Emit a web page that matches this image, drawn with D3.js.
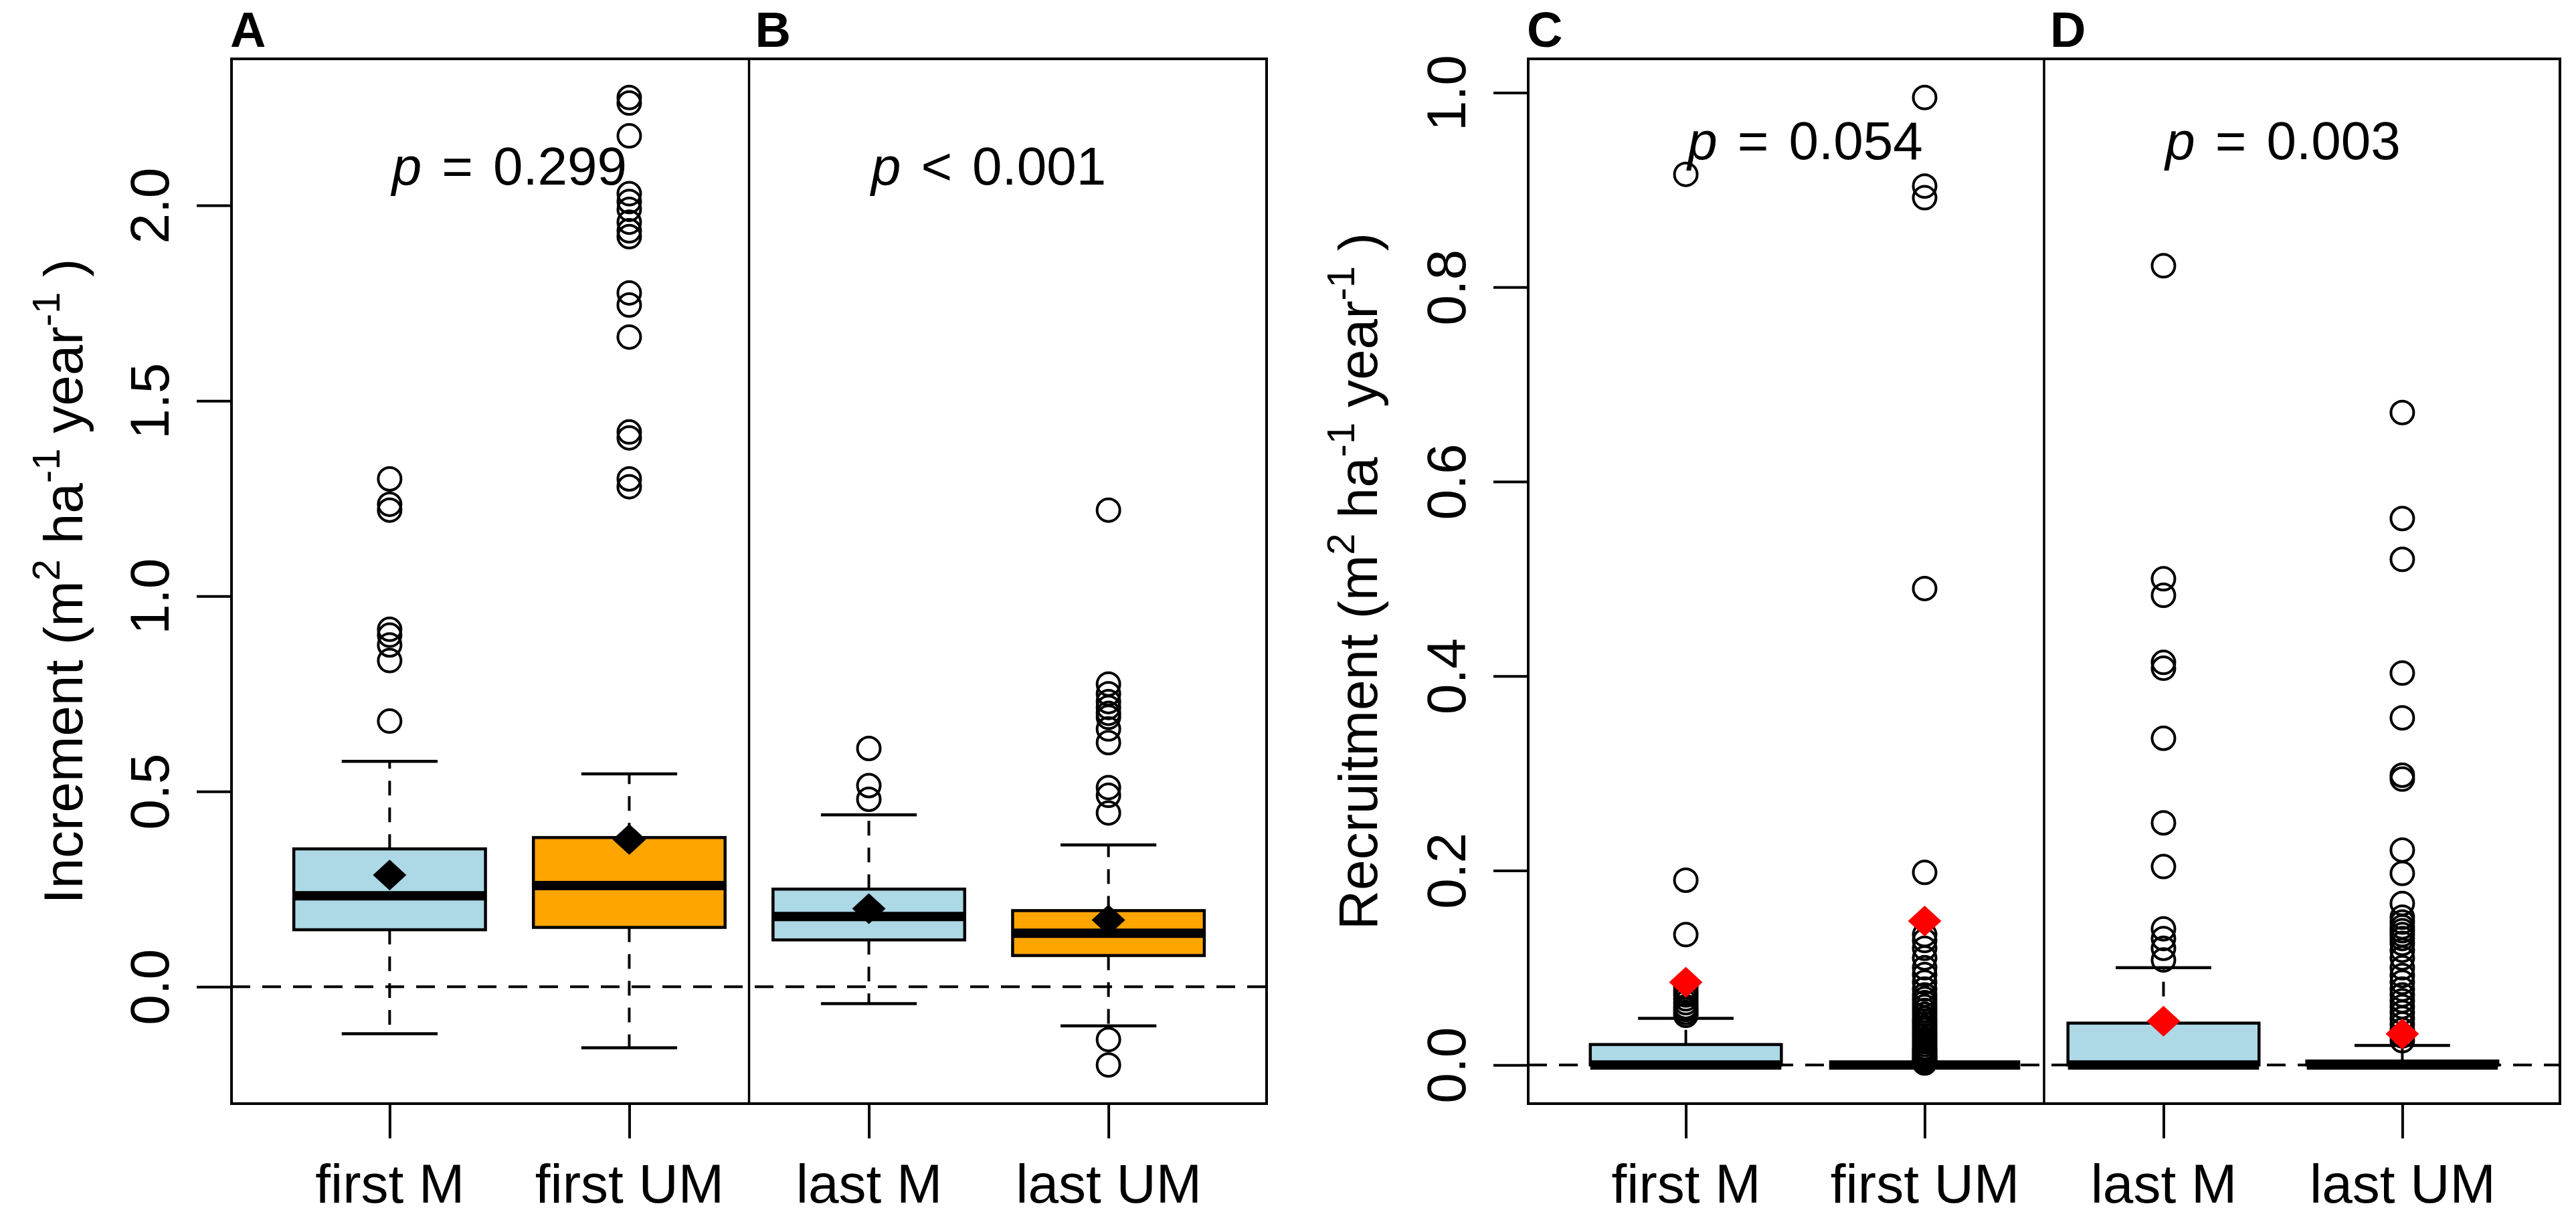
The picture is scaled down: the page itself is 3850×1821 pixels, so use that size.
<!DOCTYPE html>
<html>
<head>
<meta charset="utf-8">
<script src="https://cdn.jsdelivr.net/npm/d3@7"></script>
<style>
  body { margin: 0; background: #fff; }
  text { font-family: "Liberation Sans", Arial, Helvetica, sans-serif; }
</style>
</head>
<body>
<div id="chart"></div>
<script>
  "use strict";

  // groups on the x axis (same for both plots)
  var groups = ["first M", "first UM", "last M", "last UM"];

  // increment (panels A, B)
  var incLowerWhisker = [-0.12, -0.156, -0.043, -0.10];
  var incQ1 = [0.146, 0.152, 0.12, 0.08];
  var incMedian = [0.233, 0.259, 0.18, 0.137];
  var incQ3 = [0.353, 0.382, 0.25, 0.195];
  var incUpperWhisker = [0.577, 0.545, 0.44, 0.363];
  var incMean = [0.286, 0.377, 0.20, 0.171];
  var incOutliers = [
    [1.30, 1.235, 1.22, 0.915, 0.90, 0.875, 0.835, 0.68],
    [2.276, 2.262, 2.178, 2.03, 2.01, 1.99, 1.957, 1.935, 1.92, 1.776, 1.745, 1.663, 1.42, 1.405, 1.30, 1.28],
    [0.61, 0.515, 0.48],
    [1.22, 0.775, 0.75, 0.73, 0.715, 0.70, 0.69, 0.66, 0.625, 0.51, 0.49, 0.445, -0.135, -0.20]
  ];
  var incTicks = [0, 0.5, 1, 1.5, 2];
  var incPText = ["= 0.299", "< 0.001"];

  // recruitment (panels C, D)
  var recLowerWhisker = [0, 0, 0, 0];
  var recQ1 = [0, 0, 0, 0];
  var recMedian = [0, 0, 0, 0];
  var recQ3 = [0.021, 0, 0.043, 0.004];
  var recUpperWhisker = [0.048, 0, 0.10, 0.02];
  var recMean = [0.085, 0.148, 0.045, 0.032];
  var recOutliers = [
    [0.916, 0.19, 0.134, 0.08, 0.076, 0.072, 0.068, 0.064, 0.06, 0.057, 0.054, 0.051],
    [0.995, 0.904, 0.892, 0.49, 0.198, 0.134, 0.128, 0.12, 0.11, 0.10, 0.093, 0.085, 0.078, 0.072,
     0.068, 0.064, 0.06, 0.056, 0.052, 0.048, 0.045, 0.042, 0.039, 0.036, 0.033, 0.03, 0.027, 0.024,
     0.021, 0.018, 0.016, 0.014, 0.012, 0.01, 0.008, 0.006, 0.004, 0.003, 0.002],
    [0.822, 0.50, 0.483, 0.414, 0.408, 0.336, 0.249, 0.204, 0.14, 0.13, 0.12, 0.108],
    [0.671, 0.562, 0.52, 0.403, 0.357, 0.298, 0.294, 0.221, 0.197, 0.166, 0.152, 0.147, 0.142,
     0.138, 0.134, 0.13, 0.125, 0.118, 0.11, 0.10, 0.092, 0.085, 0.078, 0.072, 0.066, 0.06,
     0.054, 0.048, 0.042, 0.036, 0.03, 0.025]
  ];
  var recTicks = [0, 0.2, 0.4, 0.6, 0.8, 1.0];
  var recPText = ["= 0.054", "= 0.003"];

  var boxFill = ["#add8e6", "#ffa500", "#add8e6", "#ffa500"];

  var W = 3850, H = 1821, FONT = 82;

  var svg = d3.select("#chart").append("svg")
    .attr("width", W)
    .attr("height", H)
    .style("background", "#fff");

  drawPanel({
    left: 346, right: 1893, top: 88, bottom: 1650,
    lower: incLowerWhisker, q1: incQ1, median: incMedian, q3: incQ3,
    upper: incUpperWhisker, mean: incMean, outliers: incOutliers,
    meanColor: "#000", ticks: incTicks, pText: incPText, pY: 2.1,
    letters: ["A", "B"], title: "Increment", titleX: 123
  });

  drawPanel({
    left: 2284, right: 3826, top: 88, bottom: 1650,
    lower: recLowerWhisker, q1: recQ1, median: recMedian, q3: recQ3,
    upper: recUpperWhisker, mean: recMean, outliers: recOutliers,
    meanColor: "#ff0000", ticks: recTicks, pText: recPText, pY: 0.95,
    letters: ["C", "D"], title: "Recruitment", titleX: 2058
  });

  function drawPanel(cfg) {
    // R boxplot style limits: 0.5..4.5 plus 4% each side
    var x = d3.scaleLinear().domain([0.34, 4.66]).range([cfg.left, cfg.right]);
    var all = [].concat(cfg.lower, cfg.upper, d3.merge(cfg.outliers));
    var ext = d3.extent(all), pad = (ext[1] - ext[0]) * 0.04;
    var y = d3.scaleLinear().domain([ext[0] - pad, ext[1] + pad]).range([cfg.bottom, cfg.top]);

    var unit = x(1) - x(0),
        boxW = 0.8 * unit,
        capW = boxW / 2;

    var g = svg.append("g");

    var idx = d3.range(groups.length);

    // whiskers (dashed)
    g.selectAll("line.whisker-hi")
      .data(idx).enter().append("line")
      .attr("x1", function (i) { return x(i + 1); })
      .attr("x2", function (i) { return x(i + 1); })
      .attr("y1", function (i) { return y(cfg.q3[i]); })
      .attr("y2", function (i) { return y(cfg.upper[i]); })
      .attr("stroke", "#000").attr("stroke-width", 4).attr("stroke-dasharray", "22,18");
    g.selectAll("line.whisker-lo")
      .data(idx).enter().append("line")
      .attr("x1", function (i) { return x(i + 1); })
      .attr("x2", function (i) { return x(i + 1); })
      .attr("y1", function (i) { return y(cfg.q1[i]); })
      .attr("y2", function (i) { return y(cfg.lower[i]); })
      .attr("stroke", "#000").attr("stroke-width", 4).attr("stroke-dasharray", "22,18");

    // staples
    [cfg.upper, cfg.lower].forEach(function (arr) {
      g.selectAll(null)
        .data(idx).enter().append("line")
        .attr("x1", function (i) { return x(i + 1) - capW / 2; })
        .attr("x2", function (i) { return x(i + 1) + capW / 2; })
        .attr("y1", function (i) { return y(arr[i]); })
        .attr("y2", function (i) { return y(arr[i]); })
        .attr("stroke", "#000").attr("stroke-width", 4.5);
    });

    // zero line
    g.append("line")
      .attr("x1", cfg.left).attr("x2", cfg.right)
      .attr("y1", y(0)).attr("y2", y(0))
      .attr("stroke", "#000").attr("stroke-width", 4).attr("stroke-dasharray", "28,18");

    // boxes
    g.selectAll("rect.box")
      .data(idx).enter().append("rect")
      .attr("class", "box")
      .attr("x", function (i) { return x(i + 1) - boxW / 2; })
      .attr("width", boxW)
      .attr("y", function (i) { return y(cfg.q3[i]); })
      .attr("height", function (i) { return y(cfg.q1[i]) - y(cfg.q3[i]); })
      .attr("fill", function (i) { return boxFill[i]; })
      .attr("stroke", "#000").attr("stroke-width", 4.5);

    // medians
    g.selectAll("line.median")
      .data(idx).enter().append("line")
      .attr("x1", function (i) { return x(i + 1) - boxW / 2; })
      .attr("x2", function (i) { return x(i + 1) + boxW / 2; })
      .attr("y1", function (i) { return y(cfg.median[i]); })
      .attr("y2", function (i) { return y(cfg.median[i]); })
      .attr("stroke", "#000").attr("stroke-width", 14);

    // outliers
    idx.forEach(function (i) {
      g.selectAll(null)
        .data(cfg.outliers[i]).enter().append("circle")
        .attr("cx", x(i + 1))
        .attr("cy", function (d) { return y(d); })
        .attr("r", 17)
        .attr("fill", "none")
        .attr("stroke", "#000").attr("stroke-width", 4);
    });

    // means
    g.selectAll("path.mean")
      .data(idx).enter().append("path")
      .attr("d", function (i) {
        var cx = x(i + 1), cy = y(cfg.mean[i]);
        return "M" + cx + "," + (cy - 23) + "L" + (cx + 25) + "," + cy +
          "L" + cx + "," + (cy + 23) + "L" + (cx - 25) + "," + cy + "Z";
      })
      .attr("fill", cfg.meanColor);

    // frame and divider
    g.append("rect")
      .attr("x", cfg.left).attr("y", cfg.top)
      .attr("width", cfg.right - cfg.left).attr("height", cfg.bottom - cfg.top)
      .attr("fill", "none").attr("stroke", "#000").attr("stroke-width", 4);
    g.append("line")
      .attr("x1", x(2.5)).attr("x2", x(2.5))
      .attr("y1", cfg.top).attr("y2", cfg.bottom)
      .attr("stroke", "#000").attr("stroke-width", 3.5);

    // y axis
    var yAxis = d3.axisLeft(y)
      .tickValues(cfg.ticks)
      .tickSize(52)
      .tickFormat(d3.format(".1f"));
    var ya = g.append("g")
      .attr("transform", "translate(" + cfg.left + ",0)")
      .call(yAxis)
      .attr("font-size", FONT)
      .attr("font-family", null);
    ya.select(".domain").remove();
    ya.selectAll(".tick line").attr("stroke-width", 4);
    ya.selectAll(".tick text")
      .attr("x", null).attr("dy", null)
      .attr("text-anchor", "middle")
      .attr("transform", "translate(-94,0) rotate(-90)");

    // x axis
    var xAxis = d3.axisBottom(x)
      .tickValues([1, 2, 3, 4])
      .tickSize(52)
      .tickFormat(function (d) { return groups[d - 1]; });
    var xa = g.append("g")
      .attr("transform", "translate(0," + cfg.bottom + ")")
      .call(xAxis)
      .attr("font-size", FONT)
      .attr("font-family", null);
    xa.select(".domain").remove();
    xa.selectAll(".tick line").attr("stroke-width", 4);
    xa.selectAll(".tick text").attr("dy", null).attr("y", 148);

    // y title with superscripts
    var t = g.append("text")
      .attr("transform", "translate(" + cfg.titleX + "," + ((cfg.top + cfg.bottom) / 2) + ") rotate(-90)")
      .attr("text-anchor", "middle")
      .attr("font-size", FONT);
    t.append("tspan").text(cfg.title + " (m");
    t.append("tspan").attr("font-size", 58).attr("dy", -34).text("2");
    t.append("tspan").attr("dy", 34).text("\u00a0ha");
    t.append("tspan").attr("font-size", 58).attr("dy", -34).text("-1");
    t.append("tspan").attr("dy", 34).text("\u00a0year");
    t.append("tspan").attr("font-size", 58).attr("dy", -34).text("-1");
    t.append("tspan").attr("dy", 34).text("\u00a0)");

    // p-values: italic p, then the relation with spaces round it
    cfg.pText.forEach(function (s, k) {
      var pt = g.append("text")
        .attr("x", x(1.5 + 2 * k))
        .attr("y", y(cfg.pY) + 27)
        .attr("text-anchor", "middle")
        .attr("font-size", 80);
      pt.append("tspan").attr("font-style", "italic").text("p");
      pt.append("tspan").attr("dx", 30).text(s.charAt(0));
      pt.append("tspan").attr("dx", 30).text(s.slice(2));
    });

    // panel letters
    g.append("text")
      .attr("x", cfg.left - 2).attr("y", 70)
      .attr("font-size", 74).attr("font-weight", "bold")
      .text(cfg.letters[0]);
    g.append("text")
      .attr("x", x(2.5) + 9).attr("y", 70)
      .attr("font-size", 74).attr("font-weight", "bold")
      .text(cfg.letters[1]);
  }
</script>
</body>
</html>
